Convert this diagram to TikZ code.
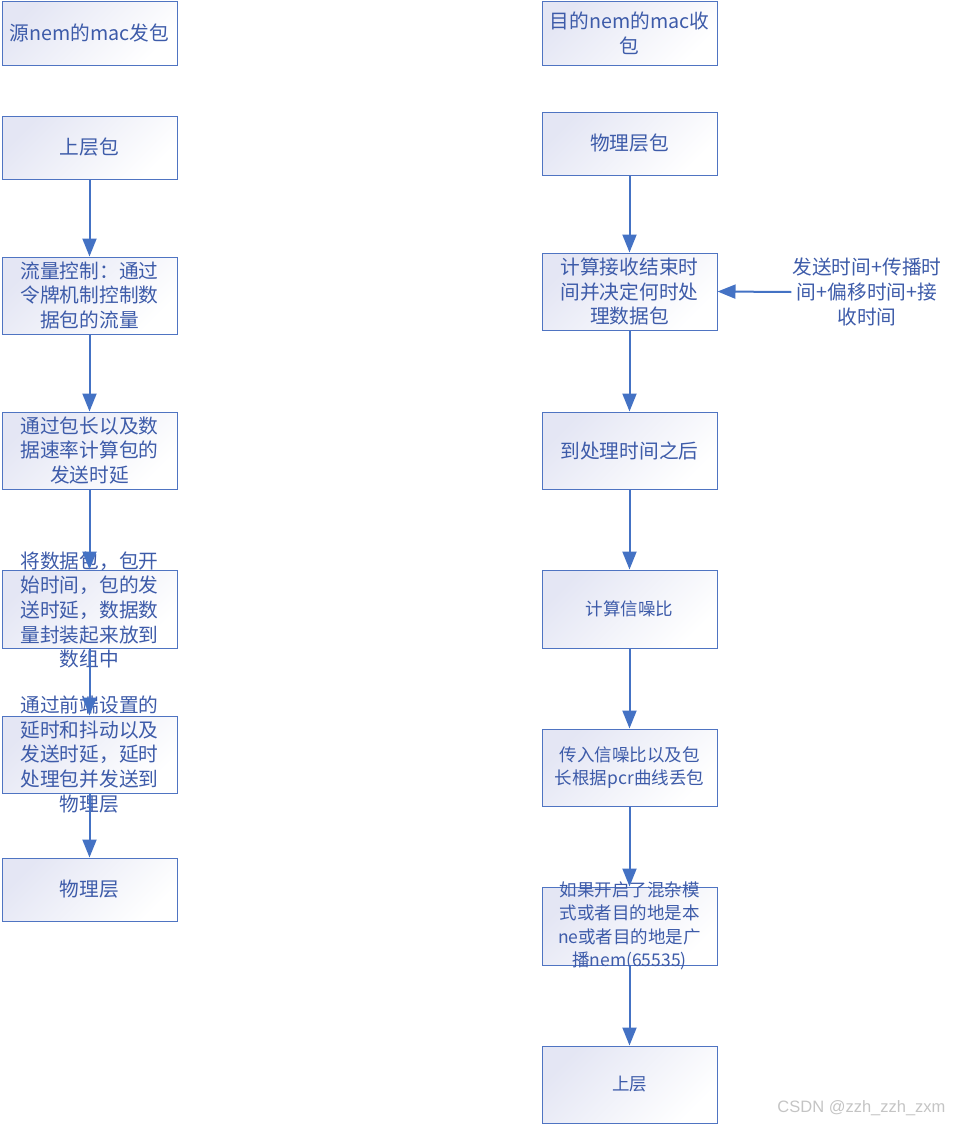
\documentclass[tikz,border=0pt]{standalone}
\usepackage{fontspec}
\setmainfont{Noto Sans CJK SC}
\newfontfamily\wmfont{Liberation Sans}
\usetikzlibrary{arrows.meta}
\definecolor{edgeblue}{HTML}{4F74C2}
\definecolor{arrblue}{HTML}{4472C4}
\definecolor{txtblue}{HTML}{3D5BA9}
\definecolor{lav}{HTML}{E4E6F4}
\definecolor{wm}{HTML}{C4C4C4}
\tikzset{
  box/.style={draw=edgeblue, line width=1pt, top color=lav, bottom color=white, shading angle=45,
    minimum width=175pt, inner sep=0pt},
  big/.style={text=txtblue, align=center, inner sep=0pt,
    font=\fontsize{19.7pt}{24.7pt}\selectfont},
  small/.style={text=txtblue, align=center, inner sep=0pt,
    font=\fontsize{17.5pt}{23.5pt}\selectfont},
  flow/.style={draw=arrblue, line width=2pt, -{Triangle[width=14pt,length=18pt]}}
}
\begin{document}
\begin{tikzpicture}[x=1pt,y=-1pt]
\useasboundingbox (0,0) rectangle (953,1125);
% left column
\node[box, minimum height=64pt] (l1) at (89.5,33) {};
\node[box, minimum height=63pt] (l2) at (89.5,147.5) {};
\node[box, minimum height=77pt] (l3) at (89.5,295.5) {};
\node[box, minimum height=77pt] (l4) at (89.5,450.5) {};
\node[box, minimum height=78pt] (l5) at (89.5,609) {};
\node[box, minimum height=77pt] (l6) at (89.5,754.5) {};
\node[box, minimum height=63pt] (l7) at (89.5,889.5) {};
% right column
\node[box, minimum height=64pt] (r1) at (629.5,33) {};
\node[box, minimum height=63pt] (r2) at (629.5,143.5) {};
\node[box, minimum height=77pt] (r3) at (629.5,291.5) {};
\node[box, minimum height=77pt] (r4) at (629.5,450.5) {};
\node[box, minimum height=78pt] (r5) at (629.5,609) {};
\node[box, minimum height=77pt] (r6) at (629.5,767.5) {};
\node[box, minimum height=78pt] (r7) at (629.5,926) {};
\node[box, minimum height=77pt] (r8) at (629.5,1084.5) {};
% texts
\node[big] (t1) at (l1.center) {源nem的mac发包};
\node[big] (t2) at (l2.center) {上层包};
\node[big] (t3) at (l3.center) {流量控制：通过\\令牌机制控制数\\据包的流量};
\node[big] (t4) at (l4.center) {通过包长以及数\\据速率计算包的\\发送时延};
\node[big] (t5) at ([yshift=-1pt]l5.center) {将数据包，包开\\始时间，包的发\\送时延，数据数\\量封装起来放到\\数组中};
\node[big] (t6) at (l6.center) {通过前端设置的\\延时和抖动以及\\发送时延，延时\\处理包并发送到\\物理层};
\node[big] (t7) at (l7.center) {物理层};
\node[big] (u1) at (r1.center) {目的nem的mac收\\包};
\node[big] (u2) at (r2.center) {物理层包};
\node[big] (u3) at (r3.center) {计算接收结束时\\间并决定何时处\\理数据包};
\node[big] (u4) at (r4.center) {到处理时间之后};
\node[small] (u5) at (r5.center) {计算信噪比};
\node[small] (u6) at (r6.center) {传入信噪比以及包\\长根据pcr曲线丢包};
\node[small] (u7) at (r7.center) {如果开启了混杂模\\式或者目的地是本\\ne或者目的地是广\\播nem(65535)};
\node[small] (u8) at (r8.center) {上层};
\node[big, inner sep=1pt] (side) at (867,292) {发送时间+传播时\\间+偏移时间+接\\收时间};
% arrows
\draw[flow] (l2) -- (l3);
\draw[flow] (l3) -- (l4);
\draw[flow] (l4) -- (l5);
\draw[flow] (l5) -- (l6);
\draw[flow] (l6) -- (l7);
\draw[flow] (r2) -- (r3);
\draw[flow] (r3) -- (r4);
\draw[flow] (r4) -- (r5);
\draw[flow] (r5) -- (r6);
\draw[flow] (r6) -- (r7);
\draw[flow] (r7) -- (r8);
\draw[flow] (side.west) -- (r3.east);
% watermark
\node[text=wm, inner sep=0pt, font=\wmfont\fontsize{16.5pt}{19pt}\selectfont] (wmk) at (861.5,1108) {CSDN @zzh\_zzh\_zxm};
\end{tikzpicture}
\end{document}
